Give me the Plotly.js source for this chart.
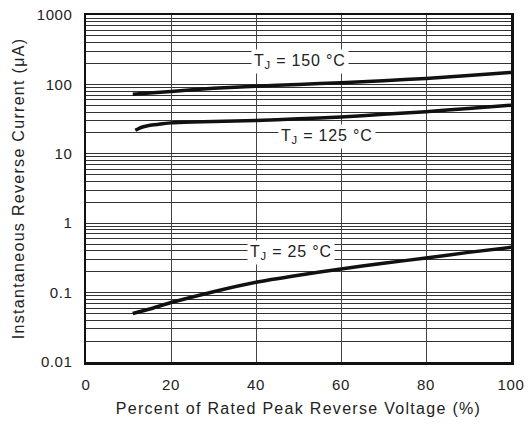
<!DOCTYPE html>
<html><head><meta charset="utf-8">
<script src="https://cdn.plot.ly/plotly-3.0.1.min.js"></script>
<style>
html,body{margin:0;padding:0;background:#fff}#c{width:528px;height:425px}
.xtitle,.ytitle{letter-spacing:1.3px}
.xtick text,.ytick text{letter-spacing:0.6px}
.annotation-text{letter-spacing:0.8px}
</style>
</head><body><div id="c"></div>
<script>
const voltagePct = [11, 15, 20, 30, 40, 50, 60, 70, 80, 90, 100];
const current150 = [72, 75, 79, 88, 94, 100, 106, 113, 122, 134, 149];
const voltagePct125 = [11.6, 12.5, 13.5, 14.5, 16, 17.5, 20, 25, 30, 40, 50, 60, 70, 80, 90, 100];
const current125 = [21.8, 23.3, 24.5, 25.4, 26.2, 26.8, 27.9, 28.8, 29.3, 30.2, 31.9, 34, 37, 40.5, 45, 50];
const current25 = [0.050, 0.058, 0.072, 0.103, 0.141, 0.178, 0.219, 0.265, 0.315, 0.38, 0.45];
const yTicks = [0.01, 0.1, 1, 10, 100, 1000];
const yTickText = ['0.01', '0.1', '1', '10', '100', '1000'];
const xTicks = [0, 20, 40, 60, 80, 100];
const labels = [
  {text: 'T<sub>J</sub> = 150 °C', x: 50.4, y: 215},
  {text: 'T<sub>J</sub> = 125 °C', x: 56.6, y: 18},
  {text: 'T<sub>J</sub> = 25 °C', x: 48.2, y: 0.38}
];

const minorVals = [];
for (let d = 0; d < yTicks.length - 1; d++) {
  for (let k = 2; k <= 9; k++) minorVals.push(yTicks[d] * k);
}

const line = {color: '#111', width: 3.5, shape: 'spline', smoothing: 0.4};
const traces = [
  {x: voltagePct, y: current150, mode: 'lines', line: line, hoverinfo: 'skip'},
  {x: voltagePct125, y: current125, mode: 'lines', line: line, hoverinfo: 'skip'},
  {x: voltagePct, y: current25, mode: 'lines', line: line, hoverinfo: 'skip'}
];

const fam = 'Liberation Sans, Arial, sans-serif';
const tickFont = {family: fam, size: 15, color: '#222'};
const titleFont = {family: fam, size: 16, color: '#222'};
const layout = {
  width: 528, height: 425,
  margin: {l: 86, r: 17, t: 15, b: 63},
  paper_bgcolor: '#fff', plot_bgcolor: '#fff',
  showlegend: false,
  font: tickFont,
  xaxis: {
    range: [0, 100], tickvals: xTicks, ticktext: xTicks.map(String),
    tickfont: tickFont,
    showgrid: true, gridcolor: '#444', gridwidth: 1,
    zeroline: false, showline: true, mirror: true, linecolor: '#111', linewidth: 2.5,
    ticks: '', ticklabelstandoff: 7,
    title: {text: 'Percent of Rated Peak Reverse Voltage (%)', font: titleFont, standoff: 12}
  },
  yaxis: {
    type: 'log', range: [-2, 3], tickvals: yTicks, ticktext: yTickText,
    tickfont: tickFont,
    showgrid: true, gridcolor: '#333', gridwidth: 1,
    minor: {tickmode: 'array', tickvals: minorVals, showgrid: true, gridcolor: '#333', gridwidth: 1, ticks: ''},
    zeroline: false, showline: true, mirror: true, linecolor: '#111', linewidth: 2.5,
    ticks: '', ticklabelstandoff: 8,
    title: {text: 'Instantaneous Reverse Current (μA)', font: titleFont, standoff: 8}
  },
  annotations: labels.map(l => ({
    text: l.text, x: l.x, y: Math.log10(l.y), xref: 'x', yref: 'y',
    showarrow: false, bgcolor: '#fff', borderpad: 2,
    font: {family: fam, size: 16, color: '#222'}
  }))
};
Plotly.newPlot('c', traces, layout, {staticPlot: true});
</script></body></html>
